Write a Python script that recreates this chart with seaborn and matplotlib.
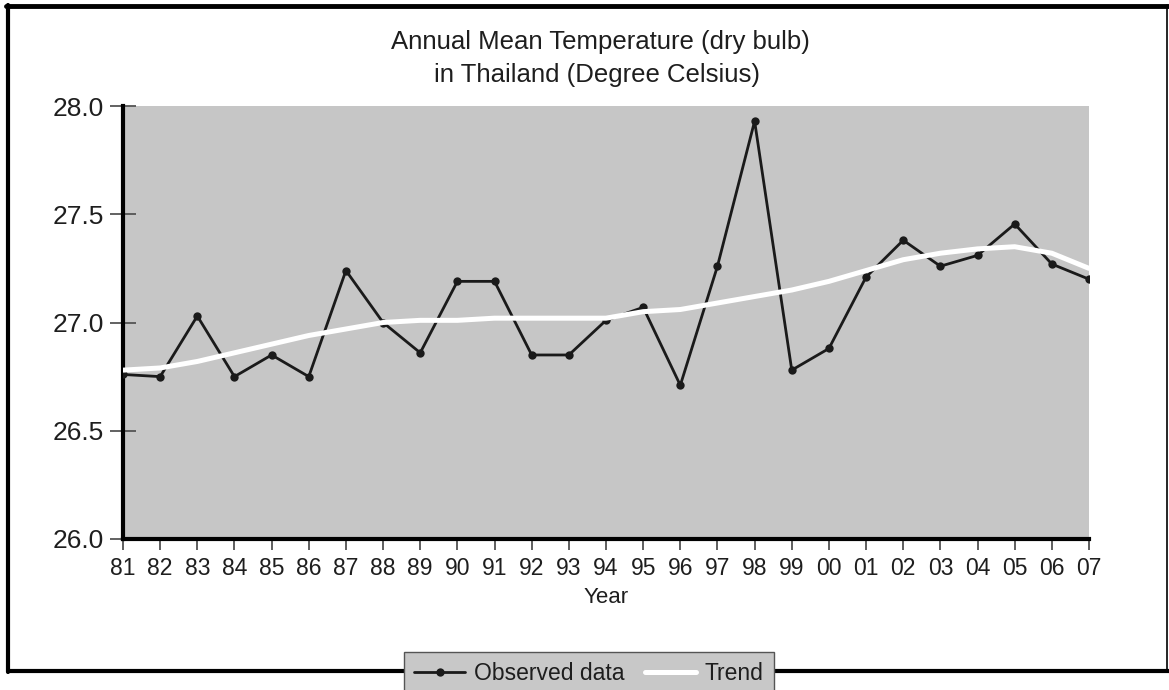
import matplotlib
matplotlib.use("Agg")
import matplotlib.pyplot as plt
import seaborn as sns
import pandas as pd
from matplotlib.lines import Line2D

# data
years = list(range(1981, 2008))
year_labels = ["81", "82", "83", "84", "85", "86", "87", "88", "89", "90",
               "91", "92", "93", "94", "95", "96", "97", "98", "99", "00",
               "01", "02", "03", "04", "05", "06", "07"]
observed = [26.76, 26.75, 27.03, 26.75, 26.85, 26.75, 27.24, 27.00, 26.86, 27.19,
            27.19, 26.85, 26.85, 27.01, 27.07, 26.71, 27.26, 27.93, 26.78, 26.88,
            27.21, 27.38, 27.26, 27.31, 27.455, 27.27, 27.20]
trend = [26.78, 26.79, 26.82, 26.86, 26.90, 26.94, 26.97, 27.00, 27.01, 27.01,
         27.02, 27.02, 27.02, 27.02, 27.05, 27.06, 27.09, 27.12, 27.15, 27.19,
         27.24, 27.29, 27.32, 27.34, 27.35, 27.32, 27.25]
y_ticks = [26.0, 26.5, 27.0, 27.5, 28.0]

df = pd.DataFrame({"year": years, "observed": observed, "trend": trend})

sns.set_style("white")
plt.rcParams["font.family"] = ["Liberation Sans", "DejaVu Sans"]
plt.rcParams["text.color"] = "#1e1e1e"
plt.rcParams["axes.labelcolor"] = "#1e1e1e"
plt.rcParams["xtick.color"] = "#1e1e1e"
plt.rcParams["ytick.color"] = "#1e1e1e"

W, H = 1169, 690
fig = plt.figure(figsize=(W / 100, H / 100), dpi=100)
# axes placed in pixel terms of the reference
ax = fig.add_axes([123 / W, 1 - 539 / H, (1089 - 123) / W, (539 - 106) / H])
ax.set_facecolor("#c6c6c6")

sns.lineplot(data=df, x="year", y="observed", ax=ax, color="#1a1a1a", linewidth=2.0,
             marker="o", markersize=6, markeredgewidth=0, label="Observed data", zorder=3)
sns.lineplot(data=df, x="year", y="trend", ax=ax, color="white", linewidth=3.6,
             label="Trend", zorder=4)

ax.set_xlim(years[0], years[-1])
ax.set_ylim(26.0, 28.0)
ax.set_xticks(years)
ax.set_xticklabels(year_labels)
ax.set_yticks(y_ticks)
ax.set_yticklabels([f"{v:.1f}" for v in y_ticks])
ax.set_xlabel("Year", fontsize=16, labelpad=5)
ax.set_ylabel("")

for side in ["top", "right"]:
    ax.spines[side].set_visible(False)
for side in ["left", "bottom"]:
    ax.spines[side].set_linewidth(3)
    ax.spines[side].set_color("black")

ax.tick_params(axis="y", left=True, direction="inout", length=19, width=1.3,
               color="#555555", labelsize=19, pad=4)
ax.tick_params(axis="x", bottom=True, direction="out", length=8, width=1.1,
               color="#333333", labelsize=16.5, pad=5)

ax.get_legend().remove()

# title
fig.text(600 / W, 1 - 42 / H, "Annual Mean Temperature (dry bulb)", ha="center",
         va="center", fontsize=18.5)
fig.text(597 / W, 1 - 75 / H, "in Thailand (Degree Celsius)", ha="center",
         va="center", fontsize=18.5)

# outer frame
def fx(px):
    return px / W

def fy(px):
    return 1 - px / H

fig.add_artist(Line2D([fx(6), fx(1169)], [fy(6), fy(6)], transform=fig.transFigure,
                      color="black", linewidth=3.5))
fig.add_artist(Line2D([fx(8), fx(8)], [fy(5), fy(672)], transform=fig.transFigure,
                      color="black", linewidth=3))
fig.add_artist(Line2D([fx(8), fx(1169)], [fy(671), fy(671)], transform=fig.transFigure,
                      color="black", linewidth=3))
fig.add_artist(Line2D([fx(1167), fx(1167)], [fy(5), fy(672)], transform=fig.transFigure,
                      color="black", linewidth=1.2))

handles, labels = ax.get_legend_handles_labels()
fig.legend(handles, labels, loc="upper center", bbox_to_anchor=(589 / W, fy(652)),
           ncol=2, frameon=True, facecolor="#c8c8c8", edgecolor="#555555",
           framealpha=1, fancybox=False, fontsize=16.5, handlelength=2.2,
           handletextpad=0.4, columnspacing=0.9, borderpad=0.45, borderaxespad=0)

fig.savefig("out.png", dpi=100)
